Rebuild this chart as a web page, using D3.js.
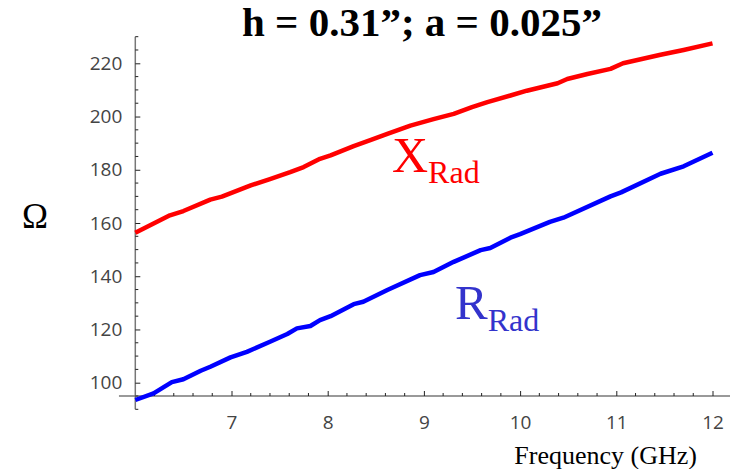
<!DOCTYPE html>
<html><head><meta charset="utf-8">
<script src="https://cdn.jsdelivr.net/npm/d3@7"></script>
<style>body{margin:0;background:#fff}svg{display:block}</style>
</head><body>
<svg id="c" width="730" height="469"></svg>
<script>
const title = "h = 0.31”; a = 0.025”";
const xLabel = "Frequency (GHz)";
const yLabel = "Ω";
const xTicks = [7, 8, 9, 10, 11, 12];
const yTicks = [100, 120, 140, 160, 180, 200, 220];

const freqX = [6.0, 6.36, 6.5, 6.78, 6.9, 7.2, 7.4, 7.61, 7.75, 7.92, 8.03, 8.27, 8.45, 8.62, 8.86, 9.1, 9.31, 9.5, 9.66, 9.9, 10.07, 10.39, 10.49, 10.7, 10.94, 11.07, 11.46, 11.7, 12.0];
const xRad  = [156.3, 162.9, 164.5, 168.8, 169.9, 174.1, 176.5, 179.1, 181.0, 184.1, 185.4, 188.9, 191.2, 193.5, 196.6, 199.0, 201.0, 203.5, 205.4, 207.9, 209.7, 212.5, 214.1, 216.0, 217.9, 220.0, 223.2, 225.0, 227.5];

const freqR = [6.0, 6.19, 6.38, 6.5, 6.68, 6.78, 6.99, 7.16, 7.4, 7.58, 7.68, 7.82, 7.92, 8.03, 8.27, 8.37, 8.62, 8.96, 9.1, 9.31, 9.59, 9.69, 9.9, 10.0, 10.31, 10.45, 10.94, 11.05, 11.46, 11.7, 12.0];
const rRad  = [93.5, 96.0, 100.2, 101.3, 104.5, 106.0, 109.5, 111.6, 115.4, 118.3, 120.4, 121.3, 123.5, 125.0, 129.5, 130.4, 134.8, 140.4, 141.6, 145.4, 149.8, 150.6, 154.5, 155.8, 160.4, 162.0, 170.0, 171.5, 178.5, 181.3, 186.4];

const svg = d3.select("#c");
const x = d3.scaleLinear().domain([6, 12]).range([135.3, 712.5]);
const y = d3.scaleLinear().domain([100, 220]).range([382.7, 63.3]);
const x0 = x(6), y0 = y(95);

// axis lines
svg.append("line").attr("x1", x(5.83)).attr("x2", x(12.2)).attr("y1", y0).attr("y2", y0)
  .attr("stroke", "#777").attr("stroke-width", 1.5);
svg.append("line").attr("x1", x0).attr("x2", x0).attr("y1", y(230)).attr("y2", y(90))
  .attr("stroke", "#777").attr("stroke-width", 1.5);

const tickFont = "'Open Sans', sans-serif";
// x ticks
const gx = svg.append("g").attr("transform", `translate(0,${y0})`);
gx.call(d3.axisBottom(x).tickValues(xTicks).tickFormat(d3.format("d")).tickSizeInner(-5).tickSizeOuter(0).tickPadding(20));
gx.select(".domain").remove();
gx.selectAll("text").attr("font-family", tickFont).attr("font-size", 19).attr("fill", "#444");
gx.selectAll("line").attr("stroke", "#222");
const xMinor = d3.range(6.2, 12.1, 0.2).filter(v => Math.abs(v - Math.round(v)) > 0.05);
gx.selectAll(".mt").data(xMinor).join("line").attr("class", "mt")
  .attr("x1", d => x(d)).attr("x2", d => x(d)).attr("y1", 0).attr("y2", -3).attr("stroke", "#222");

// y ticks
const gy = svg.append("g").attr("transform", `translate(${x0},0)`);
gy.call(d3.axisLeft(y).tickValues(yTicks).tickFormat(d3.format("d")).tickSizeInner(-5).tickSizeOuter(0).tickPadding(13));
gy.select(".domain").remove();
gy.selectAll("text").attr("font-family", tickFont).attr("font-size", 19).attr("fill", "#444");
gy.selectAll("line").attr("stroke", "#222");
const yMinor = d3.range(90, 231, 5).filter(v => v % 20 !== 0);
gy.selectAll(".mt").data(yMinor).join("line").attr("class", "mt")
  .attr("x1", 0).attr("x2", 3).attr("y1", d => y(d)).attr("y2", d => y(d)).attr("stroke", "#222");

// lines
const line = d3.line().x(d => x(d[0])).y(d => y(d[1]));
svg.append("path").datum(d3.zip(freqX, xRad)).attr("d", line)
  .attr("fill", "none").attr("stroke", "#ff0000").attr("stroke-width", 4.5).attr("stroke-linejoin", "round");
svg.append("path").datum(d3.zip(freqR, rRad)).attr("d", line)
  .attr("fill", "none").attr("stroke", "#0000ff").attr("stroke-width", 4.5).attr("stroke-linejoin", "round");

const serif = "'Liberation Serif', 'Times New Roman', serif";
// title
svg.append("text").attr("x", 422).attr("y", 36).attr("text-anchor", "middle")
  .attr("font-family", serif).attr("font-weight", "bold").attr("font-size", 41).attr("fill", "#000").text(title);
// y label
svg.append("text").attr("x", 22).attr("y", 228).attr("font-family", serif).attr("font-size", 35).attr("fill", "#000").text(yLabel);
// x label
svg.append("text").attr("x", 697).attr("y", 464).attr("text-anchor", "end")
  .attr("font-family", serif).attr("font-size", 26).attr("fill", "#000").text(xLabel);

// series labels
const lx = svg.append("text").attr("x", 392).attr("y", 172).attr("font-family", serif).attr("fill", "#ff0000");
lx.append("tspan").attr("font-size", 50).text("X");
lx.append("tspan").attr("font-size", 32).attr("dy", 11).text("Rad");
const lr = svg.append("text").attr("x", 455).attr("y", 319).attr("font-family", serif).attr("fill", "#3333cc");
lr.append("tspan").attr("font-size", 49).text("R");
lr.append("tspan").attr("font-size", 32).attr("dy", 12).text("Rad");
</script>
</body></html>
